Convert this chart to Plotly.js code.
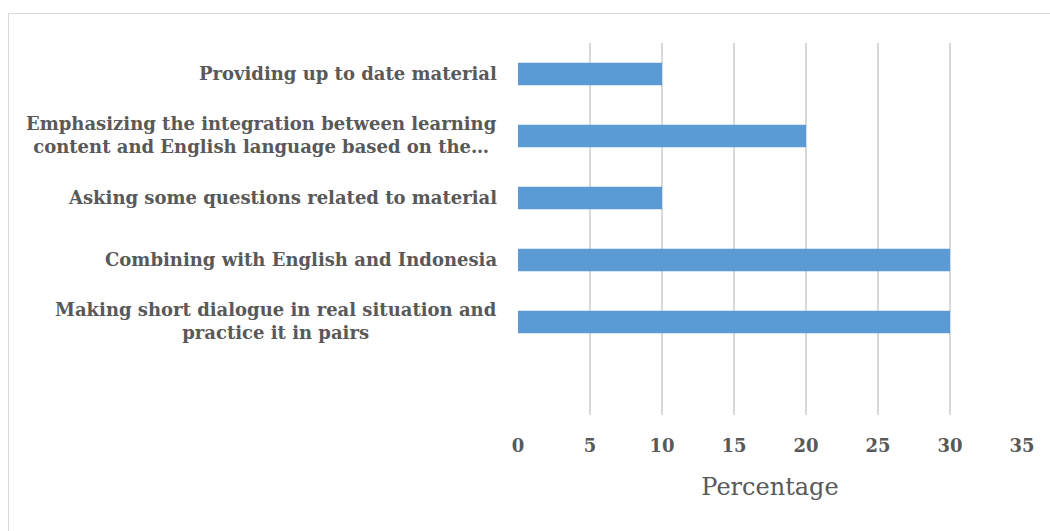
<!DOCTYPE html>
<html>
<head>
<meta charset="utf-8">
<script src="https://cdn.plot.ly/plotly-3.0.1.min.js"></script>
<style>
html,body{margin:0;padding:0;background:#fff;}
#frame{position:absolute;left:8px;top:13px;width:1060px;height:540px;border:1px solid #d9d9d9;box-sizing:border-box;}
#chart{position:absolute;left:0;top:0;width:1050px;height:531px;}
</style>
</head>
<body>
<div id="frame"></div>
<div id="chart"></div>
<script>
const categories = [
  "Providing up to date material",
  "Emphasizing the integration between learning<br>content and English language based on the…",
  "Asking some questions related to material",
  "Combining with English and Indonesia",
  "Making short dialogue in real situation and<br>practice it in pairs",
  " "
];
const percentages = [10, 20, 10, 30, 30, null];
const xTickValues = [0, 5, 10, 15, 20, 25, 30, 35];
const xAxisTitle = "Percentage";

const gray = "#595959";
const serif = "DejaVu Serif, Liberation Serif, serif";

const trace = {
  type: "bar",
  orientation: "h",
  x: percentages,
  y: categories,
  marker: {color: "#5b9bd5"},
  hoverinfo: "x+y"
};

const annotations = categories.map(c => ({
  xref: "paper", yref: "y", x: 0, y: c,
  xanchor: "right", yanchor: "middle", xshift: -19, yshift: 1,
  align: "center", showarrow: false, text: c,
  font: {family: serif, size: 18, color: gray, weight: "bold"}
}));

const layout = {
  width: 1050, height: 531,
  margin: {l: 518, r: 28, t: 43, b: 116},
  paper_bgcolor: "rgba(0,0,0,0)",
  plot_bgcolor: "rgba(0,0,0,0)",
  bargap: 0.64,
  showlegend: false,
  xaxis: {
    range: [0, 35],
    tickvals: xTickValues,
    ticktext: xTickValues.map(String),
    showgrid: true, gridcolor: "#d9d9d9", gridwidth: 1.3,
    zeroline: false, showline: false,
    ticks: "", ticklabelstandoff: 18,
    tickfont: {family: serif, size: 18, color: gray, weight: "bold"},
    title: {text: xAxisTitle, font: {family: serif, size: 24, color: gray}, standoff: 23},
    fixedrange: true
  },
  yaxis: {
    autorange: "reversed",
    showticklabels: false,
    showgrid: false, zeroline: false, showline: false, ticks: "",
    fixedrange: true
  },
  annotations: annotations
};

Plotly.newPlot("chart", [trace], layout, {displayModeBar: false, staticPlot: true});
</script>
</body>
</html>
